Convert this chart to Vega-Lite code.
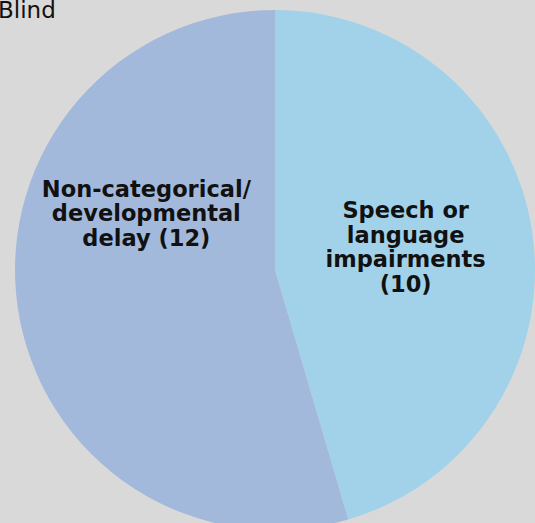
{
  "$schema": "https://vega.github.io/schema/vega-lite/v6.json",
  "width": 550,
  "height": 540,
  "autosize": {"type": "none"},
  "padding": 0,
  "background": "#d9d9d9",
  "title": {"text": "Blind", "anchor": "start", "frame": "group", "offset": -41, "dx": -2, "fontSize": 23, "font": "DejaVu Sans", "fontWeight": "normal", "color": "#111111", "baseline": "alphabetic"},
  "data": {"values": [
    {"category": "Speech or language impairments", "count": 10, "label": "Speech or\nlanguage\nimpairments\n(10)"},
    {"category": "Non-categorical/developmental delay", "count": 12, "label": "Non-categorical/\ndevelopmental\ndelay (12)"}
  ]},
  "encoding": {
    "theta": {"field": "count", "type": "quantitative", "stack": true},
    "order": {"field": "count", "type": "quantitative", "sort": "ascending"}
  },
  "layer": [
    {
      "mark": {"type": "arc", "outerRadius": 260},
      "encoding": {
        "color": {"field": "category", "type": "nominal", "legend": null,
          "scale": {"domain": ["Speech or language impairments", "Non-categorical/developmental delay"], "range": ["#a2d2ea", "#a3b9dc"]}}
      }
    },
    {
      "mark": {"type": "text", "radius": 132, "dy": -40, "lineBreak": "\n", "font": "DejaVu Sans", "fontWeight": "bold", "fontSize": 22.5, "lineHeight": 24.5, "color": "#111111", "align": "center", "baseline": "middle"},
      "encoding": {
        "text": {"condition": {"test": "datum.count === 10", "field": "label"}, "value": ""}
      }
    },
    {
      "mark": {"type": "text", "radius": 132, "dx": 2, "dy": -99, "lineBreak": "\n", "font": "DejaVu Sans", "fontWeight": "bold", "fontSize": 22.5, "lineHeight": 24.5, "color": "#111111", "align": "center", "baseline": "middle"},
      "encoding": {
        "text": {"condition": {"test": "datum.count === 12", "field": "label"}, "value": ""}
      }
    }
  ]
}
